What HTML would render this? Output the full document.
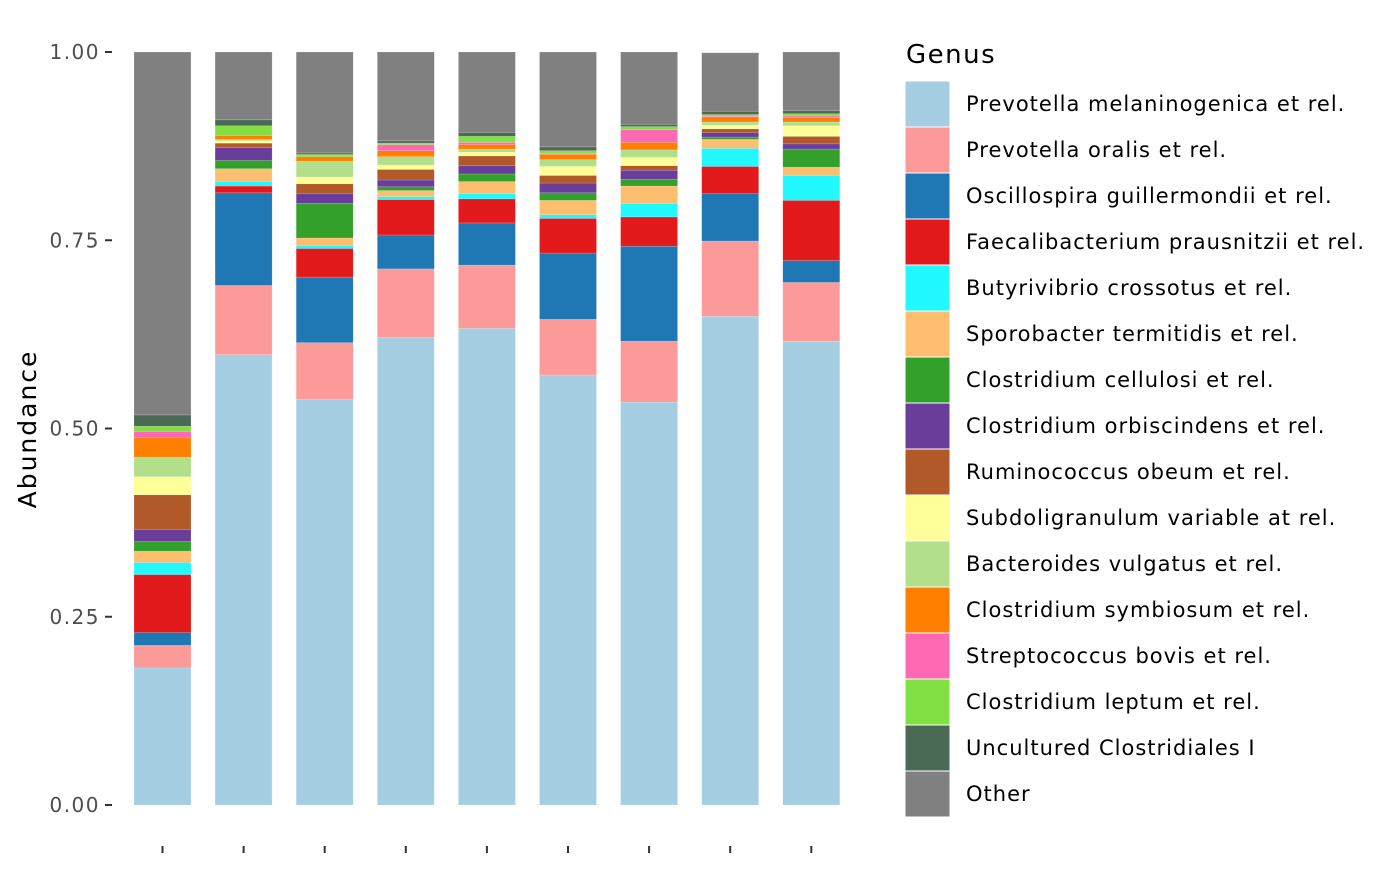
<!DOCTYPE html>
<html><head><meta charset="utf-8"><style>
body{margin:0;background:#fff;font-family:"Liberation Sans","DejaVu Sans",sans-serif;}
svg text{font-family:"DejaVu Sans","Liberation Sans",sans-serif;}
</style></head><body>
<svg id="chart" width="1400" height="866" xmlns="http://www.w3.org/2000/svg"></svg>
<script>
const genera = ["Prevotella melaninogenica et rel.","Prevotella oralis et rel.","Oscillospira guillermondii et rel.","Faecalibacterium prausnitzii et rel.","Butyrivibrio crossotus et rel.","Sporobacter termitidis et rel.","Clostridium cellulosi et rel.","Clostridium orbiscindens et rel.","Ruminococcus obeum et rel.","Subdoligranulum variable at rel.","Bacteroides vulgatus et rel.","Clostridium symbiosum et rel.","Streptococcus bovis et rel.","Clostridium leptum et rel.","Uncultured Clostridiales I","Other"];
const colors = ["#A6CEE3","#FB9A99","#1F78B4","#E31A1C","#22F8FF","#FDBF6F","#33A02C","#6A3D9A","#B15928","#FFFF99","#B2DF8A","#FF7F00","#FF69B4","#80E044","#4B6A55","#808080"];
const samples = ["S1","S2","S3","S4","S5","S6","S7","S8","S9"];
const s1 = [.182,.030,.017,.077,.016,.015,.013,.016,.046,.024,.026,.026,.008,.007,.015,.482];
const s2 = [.598,.092,.123,.009,.006,.017,.011,.017,.006,.003,.002,.005,0,.013,.008,.090];
const s3 = [.539,.075,.087,.038,.004,.010,.046,.013,.013,.009,.021,.006,0,.003,.002,.134];
const s4 = [.621,.091,.045,.047,.004,.008,.005,.009,.014,.006,.011,.008,.008,.002,.003,.118];
const s5 = [.633,.084,.056,.032,.007,.016,.010,.011,.013,.005,.004,.006,.003,.008,.005,.107];
const s6 = [.571,.074,.088,.046,.005,.019,.010,.013,.010,.012,.009,.007,.001,.004,.005,.126];
const s7 = [.535,.081,.126,.039,.018,.023,.009,.012,.006,.011,.010,.010,.017,.004,.003,.096];
const s8 = [.649,.100,.063,.036,.024,.012,.003,.006,.005,.005,.004,.007,.001,.002,.004,.078];
const s9 = [.616,.078,.029,.080,.033,.011,.024,.007,.010,.014,.005,.006,.002,.003,.004,.078];
const series = [s1,s2,s3,s4,s5,s6,s7,s8,s9];
const yTicks = [0,0.25,0.5,0.75,1];
const yTickLabels = ["0.00","0.25","0.50","0.75","1.00"];

const NS="http://www.w3.org/2000/svg";
const svg=document.getElementById('chart');
const y0=805,y1=52;
const yScale=v=>y0-(y0-y1)*v;
const xScale=i=>162.5+81.1*i;
const bw=57;
function mk(t,a){const e=document.createElementNS(NS,t);for(const k in a)e.setAttribute(k,a[k]);svg.appendChild(e);return e;}

yTicks.forEach((t,i)=>{
  const y=yScale(t);
  const l=mk('line',{x1:105,x2:112,y1:y,y2:y,stroke:'#333','stroke-width':2});
  
  
  const tx=mk('text',{x:100,y:y+7,'text-anchor':'end','font-size':20,'letter-spacing':1.5,fill:'#4d4d4d'});
  tx.textContent=yTickLabels[i];
  
  
});
const yt=mk('text',{x:0,y:0,'font-size':25,'letter-spacing':2,fill:'#000','text-anchor':'middle',transform:'translate(36,429) rotate(-90)'});
yt.textContent='Abundance';



series.forEach((vals,i)=>{
  const cx=xScale(i);
  let cum=0;
  vals.forEach((v,g)=>{
    if(v<=0)return;
    const yt=yScale(cum+v),yb=yScale(cum);
    const r=mk('rect',{x:cx-bw/2,y:yt,width:bw,height:yb-yt,fill:colors[g],stroke:'rgba(255,255,255,0.25)','stroke-width':0.6});
    
    
    cum+=v;
  });
  const tk=mk('line',{x1:cx,x2:cx,y1:846,y2:853,stroke:'#333','stroke-width':2});
  
  
});

const lt=mk('text',{x:906,y:63,'font-size':26,'letter-spacing':1.5,fill:'#000'});
lt.textContent='Genus';


genera.forEach((g,i)=>{
  const y=81+46*i;
  const r=mk('rect',{x:905,y:y,width:45,height:46,fill:colors[i],stroke:'#fff','stroke-width':1});
  
  
  const t=mk('text',{x:966,y:y+30,'font-size':21,'letter-spacing':1,fill:'#000'});
  t.textContent=g;
  
  
});
</script>
</body></html>
